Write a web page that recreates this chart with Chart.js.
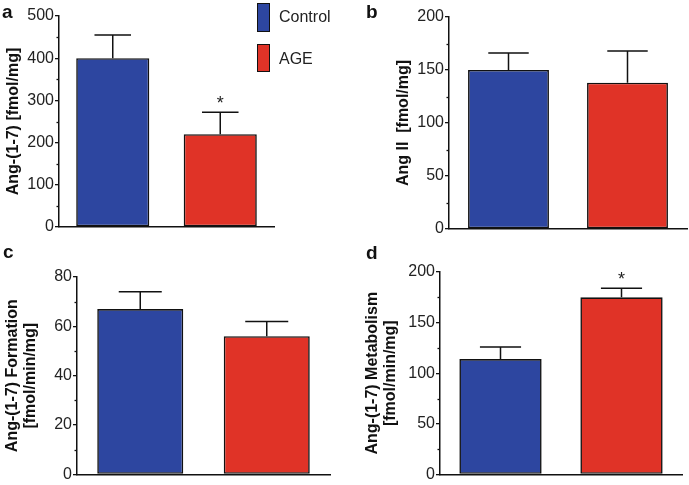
<!DOCTYPE html>
<html>
<head>
<meta charset="utf-8">
<script src="https://cdn.jsdelivr.net/npm/chart.js@4/dist/chart.umd.min.js"></script>
<style>
  body { margin: 0; background: #fff; }
  #wrap { position: relative; width: 689px; height: 485px; overflow: hidden; font-family: "Liberation Sans", Arial, sans-serif; }
  canvas { position: absolute; }
  .letter { position: absolute; font-size: 19px; line-height: 19px; font-weight: bold; color: #111; }
  .key { position: absolute; width: 11px; border: 1.5px solid #111; }
  .keytxt { position: absolute; font-size: 16px; line-height: 16px; color: #222; }
</style>
</head>
<body>
<div id="wrap">
  <canvas id="chartA" style="left:0;top:0" width="345" height="240"></canvas>
  <canvas id="chartB" style="left:345px;top:0" width="344" height="240"></canvas>
  <canvas id="chartC" style="left:0;top:240px" width="345" height="245"></canvas>
  <canvas id="chartD" style="left:345px;top:240px" width="344" height="245"></canvas>

  <div class="letter" style="left:2px;top:2px">a</div>
  <div class="letter" style="left:366px;top:2px">b</div>
  <div class="letter" style="left:3px;top:242px">c</div>
  <div class="letter" style="left:366px;top:243px">d</div>

  <div class="key" style="left:257px;top:3px;height:27px;background:#2d46a0"></div>
  <div class="keytxt" style="left:279px;top:9px">Control</div>
  <div class="key" style="left:257px;top:44px;height:26px;background:#e03327"></div>
  <div class="keytxt" style="left:279px;top:51px">AGE</div>
</div>

<script>
const groups = ['Control', 'AGE'];
const colors = ['#2d46a0', '#e03327'];

// a: Ang-(1-7)
const ang17Means = [400, 220];
const ang17Sem = [55, 52];
const ang17Sig = [false, true];

// b: Ang II
const angIIMeans = [150, 138];
const angIISem = [16, 30];
const angIISig = [false, false];

// c: Ang-(1-7) formation
const formationMeans = [67, 56];
const formationSem = [7, 6];
const formationSig = [false, false];

// d: Ang-(1-7) metabolism
const metabolismMeans = [114, 175];
const metabolismSem = [12, 9];
const metabolismSig = [false, true];

// error bars + asterisks, drawn from the bar elements and y scale
const errorBars = {
    id: 'errorBars',
    afterDatasetsDraw(chart, args, opts) {
        const ctx = chart.ctx;
        const y = chart.scales.y;
        const bars = chart.getDatasetMeta(0).data;
        const means = chart.data.datasets[0].data;
        ctx.save();
        ctx.strokeStyle = '#111';
        ctx.lineWidth = 1.5;
        for (let i = 0; i < bars.length; i++) {
            const bar = bars[i];
            const top = y.getPixelForValue(means[i] + opts.sem[i]);
            const half = bar.width * 0.25;
            ctx.beginPath();
            ctx.moveTo(bar.x, bar.y);
            ctx.lineTo(bar.x, top);
            ctx.moveTo(bar.x - half, top);
            ctx.lineTo(bar.x + half, top);
            ctx.stroke();
            if (opts.sig[i]) {
                ctx.fillStyle = '#222';
                ctx.font = '18px "Liberation Sans", Arial, sans-serif';
                ctx.textAlign = 'center';
                ctx.textBaseline = 'alphabetic';
                ctx.fillText('*', bar.x, top - 3);
            }
        }
        ctx.restore();
    }
};

// small minor ticks halfway between the labelled ones
const minorTicks = {
    id: 'minorTicks',
    afterDraw(chart, args, opts) {
        const ctx = chart.ctx;
        const y = chart.scales.y;
        const x0 = chart.chartArea.left;
        ctx.save();
        ctx.strokeStyle = '#111';
        ctx.lineWidth = 1.3;
        for (let v = opts.step / 2; v < y.max; v += opts.step) {
            const py = Math.round(y.getPixelForValue(v)) + 0.5;
            ctx.beginPath();
            ctx.moveTo(x0 - 2.5, py);
            ctx.lineTo(x0, py);
            ctx.stroke();
        }
        ctx.restore();
    }
};

function makeChart(id, cfg) {
    const ctx = document.getElementById(id).getContext('2d');
    return new Chart(ctx, {
        type: 'bar',
        data: {
            labels: groups,
            datasets: [{
                data: cfg.means,
                backgroundColor: colors,
                borderColor: '#111',
                borderWidth: 1.6,
                borderSkipped: false,
                barPercentage: 0.68,
                categoryPercentage: 1
            }]
        },
        options: {
            responsive: false,
            animation: false,
            layout: { padding: cfg.padding },
            plugins: {
                legend: { display: false },
                tooltip: { enabled: false },
                errorBars: { sem: cfg.sem, sig: cfg.sig },
                minorTicks: { step: cfg.step }
            },
            scales: {
                x: {
                    ticks: { display: false },
                    grid: { display: false },
                    border: { display: true, color: '#111', width: 1.5 },
                    afterFit: (s) => { s.height = 0; }
                },
                y: {
                    min: 0,
                    max: cfg.max,
                    ticks: {
                        stepSize: cfg.step,
                        padding: 1,
                        color: '#222',
                        font: { family: '"Liberation Sans", Arial, sans-serif', size: 16 }
                    },
                    grid: {
                        drawOnChartArea: false,
                        drawTicks: true,
                        tickLength: 4,
                        color: '#111',
                        lineWidth: 1.3
                    },
                    border: { display: true, color: '#111', width: 1.5 },
                    title: {
                        display: true,
                        text: cfg.title,
                        color: '#111',
                        padding: { top: cfg.titlePad, bottom: 0 },
                        font: { family: '"Liberation Sans", Arial, sans-serif', size: 16, weight: 'bold', lineHeight: cfg.titleLine }
                    },
                    afterFit: (s) => { s.width = cfg.axisWidth; }
                }
            }
        },
        plugins: [errorBars, minorTicks]
    });
}

makeChart('chartA', {
    means: ang17Means, sem: ang17Sem, sig: ang17Sig,
    max: 500, step: 100,
    title: 'Ang-(1-7) [fmol/mg]', titlePad: 3.5, titleLine: 1.2,
    axisWidth: 59,
    padding: { left: 0, top: 16, right: 71, bottom: 13 }
});

makeChart('chartB', {
    means: angIIMeans, sem: angIISem, sig: angIISig,
    max: 200, step: 50,
    title: 'Ang II  [fmol/mg]', titlePad: 48.5, titleLine: 1.2,
    axisWidth: 104,
    padding: { left: 0, top: 17, right: 2, bottom: 11 }
});

makeChart('chartC', {
    means: formationMeans, sem: formationSem, sig: formationSig,
    max: 80, step: 20,
    title: ['Ang-(1-7) Formation', '[fmol/min/mg]'], titlePad: 4, titleLine: 18 / 16,
    axisWidth: 77,
    padding: { left: 0, top: 37, right: 15, bottom: 9 }
});

makeChart('chartD', {
    means: metabolismMeans, sem: metabolismSem, sig: metabolismSig,
    max: 200, step: 50,
    title: ['Ang-(1-7) Metabolism', '[fmol/min/mg]'], titlePad: 19, titleLine: 18 / 16,
    axisWidth: 95,
    padding: { left: 0, top: 32, right: 7, bottom: 9 }
});
</script>
</body>
</html>
